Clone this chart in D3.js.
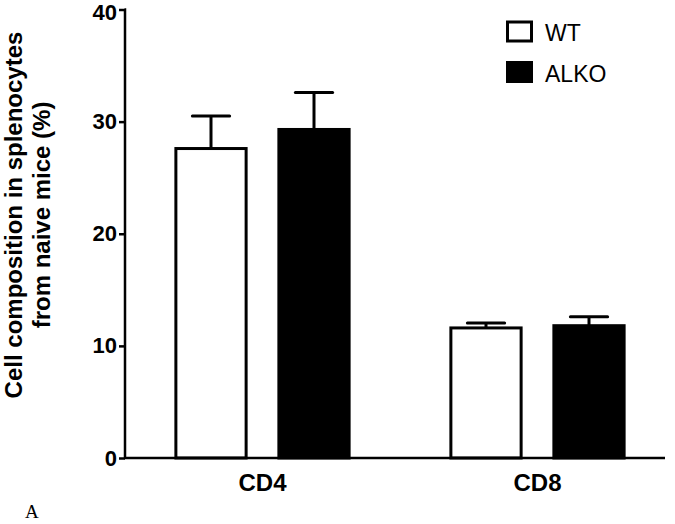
<!DOCTYPE html>
<html>
<head>
<meta charset="utf-8">
<script src="https://cdn.jsdelivr.net/npm/d3@7"></script>
<style>
  html, body { margin: 0; padding: 0; background: #fff; }
  svg { display: block; }
</style>
</head>
<body>
<svg id="chart" width="675" height="524"></svg>
<script>
const categories = ["CD4", "CD8"];
const seriesNames = ["WT", "ALKO"];
const wtMeans = [27.6, 11.6];
const wtErrors = [2.9, 0.45];
const alkoMeans = [29.3, 11.8];
const alkoErrors = [3.3, 0.8];
const yTicks = [0, 10, 20, 30, 40];
const yTitleLines = ["Cell composition in splenocytes", "from naive mice (%)"];

const svg = d3.select("#chart");
const font = "'Liberation Sans', Arial, Helvetica, sans-serif";

const y = d3.scaleLinear().domain([0, 40]).range([458, 9.5]);
const x = d3.scaleBand().domain(categories).range([125, 675]).paddingInner(0).paddingOuter(0);
const xs = d3.scaleBand().domain(seriesNames).range([0, x.bandwidth()]).paddingInner(0.318).paddingOuter(0.494);

const rows = [];
categories.forEach((c, i) => {
  rows.push({cat: c, series: "WT", mean: wtMeans[i], err: wtErrors[i]});
  rows.push({cat: c, series: "ALKO", mean: alkoMeans[i], err: alkoErrors[i]});
});
const fill = {WT: "#ffffff", ALKO: "#000000"};

// bars
const g = svg.append("g");
g.selectAll("rect.bar").data(rows).enter().append("rect")
  .attr("class", "bar")
  .attr("x", d => x(d.cat) + xs(d.series))
  .attr("y", d => y(d.mean))
  .attr("width", xs.bandwidth())
  .attr("height", d => y(0) - y(d.mean))
  .attr("fill", d => fill[d.series])
  .attr("stroke", "#000")
  .attr("stroke-width", 3);

// error bars (upper only)
const capW = xs.bandwidth() * 0.53;
rows.forEach(d => {
  const cx = x(d.cat) + xs(d.series) + xs.bandwidth() / 2;
  g.append("line").attr("x1", cx).attr("x2", cx)
    .attr("y1", y(d.mean)).attr("y2", y(d.mean + d.err))
    .attr("stroke", "#000").attr("stroke-width", 3);
  g.append("line").attr("x1", cx - capW / 2).attr("x2", cx + capW / 2)
    .attr("y1", y(d.mean + d.err)).attr("y2", y(d.mean + d.err))
    .attr("stroke", "#000").attr("stroke-width", 3).attr("stroke-linecap", "round");
});

// y axis
const yAxis = svg.append("g").attr("transform", "translate(125,0)")
  .call(d3.axisLeft(y).tickValues(yTicks).tickSize(6).tickPadding(2).tickFormat(d3.format("d")));
yAxis.select(".domain").attr("stroke-width", 2.5).attr("d", `M-0.5,${y(40)}H0V${y(0)}`);
yAxis.selectAll(".tick line").attr("stroke-width", 2.5);
yAxis.selectAll(".tick text").attr("font-family", font).attr("font-weight", "bold")
  .attr("font-size", 22).attr("fill", "#000")
  .attr("dy", d => d === 40 ? "0.45em" : "0.32em");

// x axis
svg.append("line").attr("x1", 124).attr("x2", 665).attr("y1", y(0)).attr("y2", y(0))
  .attr("stroke", "#000").attr("stroke-width", 2.5);
svg.selectAll("text.xlab").data(categories).enter().append("text")
  .attr("class", "xlab")
  .attr("x", d => x(d) + x.bandwidth() / 2)
  .attr("y", 491)
  .attr("text-anchor", "middle")
  .attr("font-family", font).attr("font-weight", "bold").attr("font-size", 24)
  .text(d => d);

// y title
const yt = svg.append("text")
  .attr("transform", "translate(22,215) rotate(-90)")
  .attr("text-anchor", "middle")
  .attr("font-family", font).attr("font-weight", "bold").attr("font-size", 24);
yTitleLines.forEach((t, i) => {
  yt.append("tspan").attr("x", 0).attr("y", i * 28).text(t);
});

// legend
const leg = svg.append("g");
seriesNames.forEach((s, i) => {
  const ly = 22 + i * 40.5;
  leg.append("rect").attr("x", 507.5).attr("y", ly).attr("width", 24).attr("height", 19)
    .attr("fill", fill[s]).attr("stroke", "#000").attr("stroke-width", 3);
  leg.append("text").attr("x", 545).attr("y", ly + 19)
    .attr("font-family", font).attr("font-size", 23).text(s);
});

// panel letter
svg.append("text").attr("x", 25).attr("y", 518)
  .attr("font-family", "'Liberation Serif', 'Times New Roman', serif")
  .attr("font-size", 19).text("A");
</script>
</body>
</html>
